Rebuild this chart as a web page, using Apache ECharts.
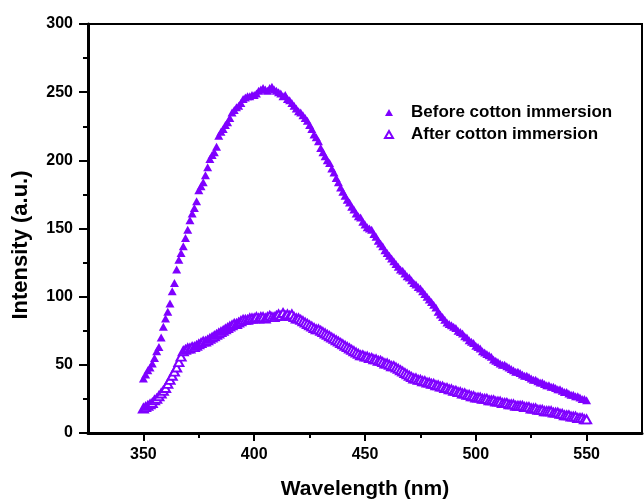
<!DOCTYPE html>
<html>
<head>
<meta charset="utf-8">
<script src="https://cdn.jsdelivr.net/npm/echarts@6/dist/echarts.min.js"></script>
<style>
  html, body { margin: 0; padding: 0; background: #fff; }
  #main { width: 644px; height: 500px; }
</style>
</head>
<body>
<div id="main"></div>
<script>
// wavelength of the first point, 1 nm step
var waveStart = 350;

var before = [
  40, 43, 46, 48, 51, 55, 60, 63, 70, 78,
  84, 89, 95, 104, 110, 120, 127, 132, 137, 143,
  149, 156, 161, 165, 170, 178, 181, 184, 189, 195,
  201, 204, 206, 210, 218, 221, 223, 226, 228, 231,
  235, 237, 239, 240, 242, 245, 246, 247, 247, 248,
  248, 249, 251, 252, 253, 252, 251, 253, 254, 252,
  251, 250, 249, 247, 248, 245, 244, 242, 240, 238,
  236, 235, 233, 231, 229, 226, 223, 219, 217, 214,
  209, 206, 203, 200, 198, 194, 191, 187, 184, 180,
  177, 174, 171, 169, 166, 164, 161, 159, 158, 155,
  153, 151, 150, 149, 146, 144, 141, 139, 137, 134,
  132, 130, 128, 126, 124, 122, 120, 119, 117, 115,
  114, 112, 110, 109, 107, 106, 104, 102, 100, 98,
  96, 94, 92, 89, 87, 85, 83, 81, 80, 79,
  78, 77, 75, 74, 73, 71, 70, 68, 67, 66,
  64, 63, 62, 60, 59, 58, 57, 56, 54, 53,
  52, 51, 50, 50, 49, 48, 47, 46, 45, 45,
  44, 43, 42, 42, 41, 40, 39, 39, 38, 37,
  37, 36, 35, 35, 34, 34, 33, 32, 32, 31,
  30, 30, 29, 28, 28, 27, 27, 26, 25, 25,
  24
];

var after = [
  18, 19, 20, 21, 22, 24, 25, 27, 29, 31,
  33, 36, 39, 42, 45, 48, 52, 56, 60, 61,
  62, 62, 63, 63, 64, 65, 66, 67, 67, 68,
  69, 70, 71, 72, 73, 74, 75, 76, 77, 78,
  79, 80, 80, 81, 82, 83, 83, 83, 84, 84,
  84, 85, 84, 85, 85, 84, 85, 86, 85, 85,
  86, 87, 86, 88, 86, 87, 86, 87, 85, 84,
  84, 83, 82, 81, 80, 79, 78, 77, 76, 76,
  75, 74, 73, 72, 71, 70, 69, 68, 67, 66,
  65, 64, 63, 62, 61, 60, 59, 58, 57, 57,
  56, 56, 55, 55, 54, 54, 53, 53, 52, 51,
  51, 50, 49, 49, 48, 47, 46, 45, 44, 43,
  42, 41, 40, 40, 39, 39, 38, 38, 37, 37,
  36, 36, 35, 35, 34, 34, 33, 33, 32, 32,
  31, 31, 30, 30, 29, 29, 28, 28, 27, 27,
  26, 26, 26, 25, 25, 25, 24, 24, 24, 23,
  23, 23, 22, 22, 22, 21, 21, 21, 20, 20,
  20, 20, 19, 19, 19, 18, 18, 18, 17, 17,
  17, 16, 16, 16, 16, 15, 15, 15, 14, 14,
  13, 13, 13, 12, 12, 12, 11, 11, 11, 10,
  10
];

var xMajorTicks = [350, 400, 450, 500, 550];
var xMinorTicks = [375, 425, 475, 525];

function toPairs(arr) {
  return arr.map(function (v, i) { return [waveStart + i, v]; });
}

var purple = '#7f00ff';
var font = '"Liberation Sans", Arial, sans-serif';

var chartDom = document.getElementById('main');
var myChart = echarts.init(chartDom);
var option;

option = {
  animation: false,
  grid: {
    left: 88, right: 2, top: 24, bottom: 67,
    outerBoundsMode: 'none',
    containLabel: false,
    show: true, borderColor: '#000', borderWidth: 2
  },
  legend: {
    orient: 'vertical',
    left: 379,
    top: 99,
    itemWidth: 8,
    itemHeight: 7,
    itemGap: 5,
    textStyle: {
      fontFamily: font, fontWeight: 'bold', fontSize: 17, color: '#000',
      padding: [0, 0, 0, 13]
    },
    data: ['Before cotton immersion', 'After cotton immersion']
  },
  xAxis: [
    {
      type: 'value',
      min: 325,
      max: 575,
      name: 'Wavelength (nm)',
      nameLocation: 'middle',
      nameGap: 46,
      nameTextStyle: { fontFamily: font, fontWeight: 'bold', fontSize: 21, color: '#000' },
      axisLine: { lineStyle: { color: '#000', width: 3 } },
      axisTick: { customValues: xMajorTicks, length: 8, lineStyle: { width: 2, color: '#000' } },
      axisLabel: {
        customValues: xMajorTicks, margin: 14,
        fontFamily: font, fontWeight: 'bold', fontSize: 16, color: '#000'
      },
      splitLine: { show: false }
    },
    {
      type: 'value',
      min: 325,
      max: 575,
      position: 'bottom',
      axisLine: { show: false },
      axisTick: { customValues: xMinorTicks, length: 5, lineStyle: { width: 2, color: '#000' } },
      axisLabel: { show: false },
      splitLine: { show: false }
    }
  ],
  yAxis: {
    type: 'value',
    min: 0,
    max: 300,
    interval: 50,
    axisLine: { show: true, lineStyle: { color: '#000', width: 3 } },
    axisTick: { show: true, length: 9, lineStyle: { width: 2, color: '#000' } },
    minorTick: { show: true, splitNumber: 2, length: 5, lineStyle: { width: 2, color: '#000' } },
    axisLabel: { margin: 15, fontFamily: font, fontWeight: 'bold', fontSize: 16, color: '#000' },
    splitLine: { show: false },
    minorSplitLine: { show: false }
  },
  graphic: [
    {
      type: 'text',
      x: 21,
      y: 245,
      rotation: Math.PI / 2,
      style: {
        text: 'Intensity (a.u.)',
        fontFamily: font, fontWeight: 'bold', fontSize: 22, fill: '#000',
        align: 'center', verticalAlign: 'middle'
      }
    }
  ],
  series: [
    {
      name: 'Before cotton immersion',
      type: 'scatter',
      symbol: 'triangle',
      symbolSize: [9, 8],
      itemStyle: { color: purple, opacity: 1 },
      data: toPairs(before)
    },
    {
      name: 'After cotton immersion',
      type: 'scatter',
      symbol: 'emptyTriangle',
      symbolSize: [9, 8],
      itemStyle: { color: purple, borderColor: purple, borderWidth: 1, opacity: 1 },
      data: toPairs(after)
    }
  ]
};

option && myChart.setOption(option);
</script>
</body>
</html>
